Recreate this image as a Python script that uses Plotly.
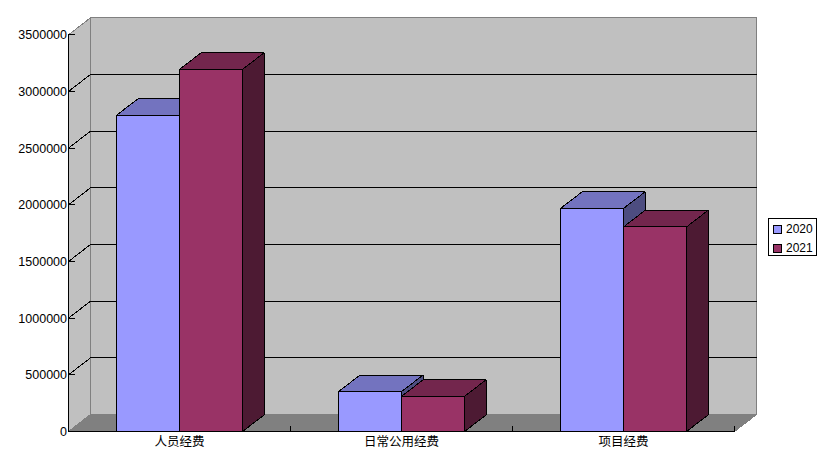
import plotly.graph_objects as go

# ---- data ----
categories = ["人员经费", "日常公用经费", "项目经费"]
series_names = ["2020", "2021"]
values_2020 = [2790000, 352000, 1968000]
values_2021 = [3195000, 310000, 1805000]
y_ticks = [0, 500000, 1000000, 1500000, 2000000, 2500000, 3000000, 3500000]

# ---- styles ----
front_colors = ["#9999FF", "#993366"]
top_colors = ["#7373BF", "#73264D"]
side_colors = ["#4D4D80", "#4D1A33"]
WALL, FLOOR, EDGE = "#C0C0C0", "#808080", "#808080"

# ---- scale helpers (pixels per unit of the plot axes) ----
PX_PER_CAT = 222.0
PX_PER_VAL = 396.7 / 3500000
n_cat = len(categories)
x0 = -0.5
x1 = x0 + n_cat
y_top = y_ticks[-1]
# depth of the pseudo 3-D box, axis units
wall_dx, wall_dy = 22 / PX_PER_CAT, 17 / PX_PER_VAL
bar_dx, bar_dy = 21.5 / PX_PER_CAT, 16.5 / PX_PER_VAL
bar_w = 63 / PX_PER_CAT

L, T, R, B = 68, 17, 757, 432
xr = [x0 - 0.5 / PX_PER_CAT, x0 - 0.5 / PX_PER_CAT + (R - L) / PX_PER_CAT]
yr = [-0.5 / PX_PER_VAL, -0.5 / PX_PER_VAL + (B - T) / PX_PER_VAL]

fig = go.Figure()


def poly(px, py, fill, line, xa="x", ya="y", width=1):
    fig.add_trace(go.Scatter(x=px, y=py, mode="lines", fill="toself" if fill else None,
                             fillcolor=fill, line=dict(color=line, width=width),
                             xaxis=xa, yaxis=ya, showlegend=False, hoverinfo="skip",
                             cliponaxis=False))


# walls & floor
poly([x0, x0, x0 + wall_dx, x0 + wall_dx, x0], [0, y_top, y_top + wall_dy, wall_dy, 0], WALL, EDGE)
poly([x0 + wall_dx, x0 + wall_dx, x1 + wall_dx, x1 + wall_dx, x0 + wall_dx],
     [wall_dy, y_top + wall_dy, y_top + wall_dy, wall_dy, wall_dy], WALL, EDGE)
poly([x0, x0 + wall_dx, x1 + wall_dx, x1, x0], [0, wall_dy, wall_dy, 0, 0], FLOOR, EDGE)

# gridlines on the walls
gx, gy = [], []
for v in y_ticks[1:-1]:
    gx += [x0, x0 + wall_dx, x1 + wall_dx, None]
    gy += [v, v + wall_dy, v + wall_dy, None]
poly(gx, gy, None, "#000000")

# bars: each series on its own overlaid axes so the later one paints over the earlier one
for i, (name, vals) in enumerate(zip(series_names, [values_2020, values_2021])):
    xa, ya = f"x{i + 2}", f"y{i + 2}"
    offs = -bar_w if i == 0 else 0
    fig.add_trace(go.Bar(x=list(range(n_cat)), y=vals, name=name, width=bar_w, offset=offs,
                         marker=dict(color=front_colors[i], line=dict(color="#000000", width=1)),
                         xaxis=xa, yaxis=ya, showlegend=False))
    tx, ty, sx, sy = [], [], [], []
    for c, v in enumerate(vals):
        a = c + offs
        b = a + bar_w
        tx += [a, a + bar_dx, b + bar_dx, b, a, None]
        ty += [v, v + bar_dy, v + bar_dy, v, v, None]
        sx += [b, b + bar_dx, b + bar_dx, b, b, None]
        sy += [0, bar_dy, v + bar_dy, v, 0, None]
    poly(tx, ty, top_colors[i], "#000000", xa, ya)
    poly(sx, sy, side_colors[i], "#000000", xa, ya)

# front axis lines on top
poly([x0, x0, x1], [y_top, 0, 0], None, "#000000", "x3", "y3")

common = dict(showgrid=False, zeroline=False, showline=False)
font = dict(family="Liberation Sans", size=12.5, color="#000000")
cjk = dict(family="Noto Sans CJK SC", size=12.5, color="#000000")
layout_axes = dict(
    xaxis=dict(range=xr, tickmode="array", tickvals=list(range(n_cat)), ticktext=categories,
               ticks="", tickfont=cjk, **common),
    yaxis=dict(range=yr, tickmode="array", tickvals=y_ticks, ticktext=[str(v) for v in y_ticks],
               ticks="inside", ticklen=7, tickcolor="#000000", tickwidth=1, tickfont=font, **common),
    xaxis2=dict(range=xr, overlaying="x", anchor="y2", showticklabels=False, ticks="", **common),
    yaxis2=dict(range=yr, overlaying="y", anchor="x2", showticklabels=False, ticks="", **common),
    xaxis3=dict(range=xr, overlaying="x", anchor="y3", showticklabels=False, ticks="inside",
                ticklen=6, tickcolor="#000000", tickmode="array",
                tickvals=[x0 + k for k in range(1, n_cat + 1)], **common),
    yaxis3=dict(range=yr, overlaying="y", anchor="x3", showticklabels=False, ticks="", **common),
)


# legend drawn by hand: plotly's own legend cannot be as narrow as the reference's
def px(x):
    return (x - L) / (R - L)


def py(y):
    return (B - y) / (B - T)


shapes = [dict(type="rect", xref="paper", yref="paper", x0=px(768.5), x1=px(816.5),
               y0=py(218.5), y1=py(255.5), fillcolor="#FFFFFF",
               line=dict(color="#000000", width=1))]
annotations = []
for i, (name, ypos) in enumerate(zip(series_names, [229, 248])):
    shapes.append(dict(type="rect", xref="paper", yref="paper", x0=px(773.5), x1=px(781.5),
                       y0=py(ypos - 4), y1=py(ypos + 4), fillcolor=front_colors[i],
                       line=dict(color="#000000", width=1)))
    annotations.append(dict(text=name, xref="paper", yref="paper", x=px(785), y=py(ypos),
                            xanchor="left", yanchor="middle", showarrow=False, borderpad=0,
                            font=dict(family="Liberation Sans", size=12, color="#000000")))

fig.update_layout(
    width=827, height=476, autosize=False,
    margin=dict(l=L, r=827 - R, t=T, b=476 - B, pad=0),
    paper_bgcolor="#FFFFFF", plot_bgcolor="rgba(0,0,0,0)",
    showlegend=False, barmode="overlay", font=font,
    shapes=shapes, annotations=annotations,
    **layout_axes,
)
page_setup = (
    "document.body.style.margin='0';"
    "var s=document.createElement('style');"
    "s.textContent='.main-svg path{shape-rendering:crispEdges !important}';"
    "document.head.appendChild(s);"
)
fig.write_html("out.html", post_script=page_setup, config={"displayModeBar": False})
